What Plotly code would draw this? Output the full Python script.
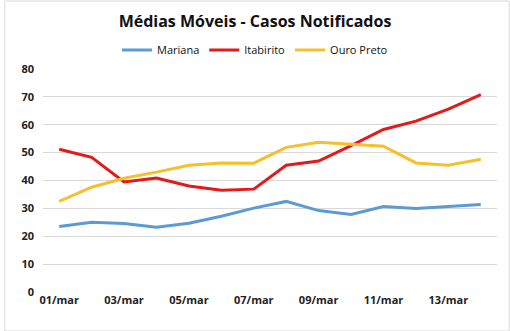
import plotly.graph_objects as go

dates = ["01/mar","02/mar","03/mar","04/mar","05/mar","06/mar","07/mar",
         "08/mar","09/mar","10/mar","11/mar","12/mar","13/mar","14/mar"]
mariana = [23.5, 25.0, 24.6, 23.2, 24.7, 27.2, 30.1, 32.5, 29.2, 27.8, 30.7, 30.0, 30.7, 31.4]
itabirito = [51.2, 48.3, 39.5, 40.9, 38.0, 36.5, 36.9, 45.5, 47.0, 52.5, 58.3, 61.3, 65.6, 70.8]
ouro_preto = [32.5, 37.6, 40.8, 43.0, 45.5, 46.3, 46.2, 51.9, 53.7, 53.0, 52.3, 46.3, 45.5, 47.6]
tick_labels = dates[::2]
y_ticks = [0, 10, 20, 30, 40, 50, 60, 70, 80]

idx = list(range(len(dates)))
fig = go.Figure()
for name, vals, col in [("Mariana", mariana, "#5B9BD5"),
                        ("Itabirito", itabirito, "#E31A1C"),
                        ("Ouro Preto", ouro_preto, "#F5C02B")]:
    fig.add_trace(go.Scatter(x=idx, y=vals, mode="lines", name=name,
                             line=dict(color=col, width=3)))

font = "Open Sans, Liberation Sans, sans-serif"
fig.update_layout(
    width=510, height=331,
    margin=dict(l=43, r=13, t=69, b=39),
    paper_bgcolor="white", plot_bgcolor="white",
    title=dict(text="<b>Médias Móveis - Casos Notificados</b>", x=0.5, xanchor="center",
               y=0.935, yanchor="middle", font=dict(family=font, size=16, color="#111")),
    legend=dict(orientation="h", x=0.467, xanchor="center", y=1.085, yanchor="middle",
                font=dict(family=font, size=11, color="#111"), itemwidth=30,
                bgcolor="rgba(0,0,0,0)"),
    xaxis=dict(range=[-0.5, 13.5], tickmode="array", tickvals=idx[::2],
               ticktext=["<b>%s</b>" % t for t in tick_labels], showgrid=False,
               showline=False, zeroline=False, ticks="",
               tickfont=dict(family=font, size=11, color="#222")),
    yaxis=dict(range=[0, 80], tickvals=y_ticks,
               ticktext=["<b>%d</b>" % v for v in y_ticks], showgrid=True,
               gridcolor="#D9D9D9", gridwidth=1, zeroline=False, showline=False,
               ticks="", ticklabelstandoff=8,
               tickfont=dict(family=font, size=11, color="#222")),
    shapes=[dict(type="rect", xref="paper", yref="paper", x0=-0.084, x1=1.027,
                 y0=-0.175, y1=1.305, line=dict(color="#D9D9D9", width=1))],
)
fig.write_html("out.html")
